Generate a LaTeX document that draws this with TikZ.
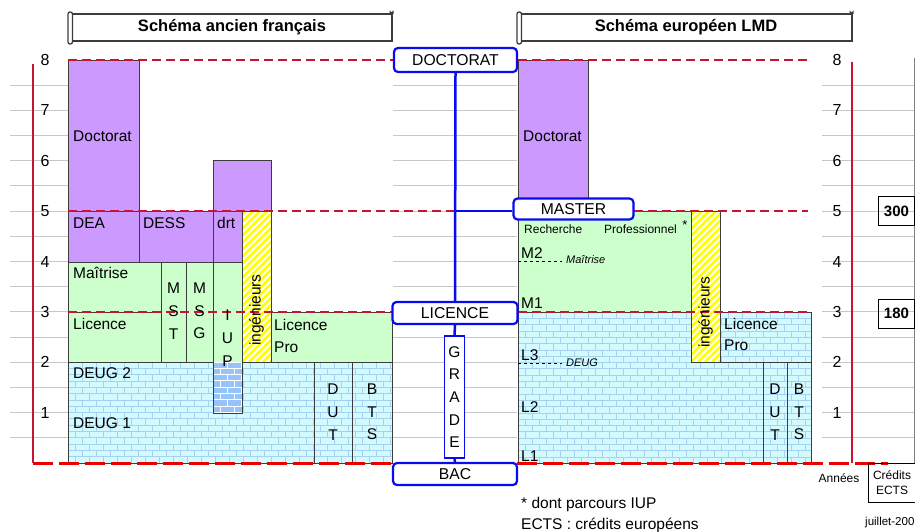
\documentclass[tikz,border=0pt]{standalone}
\usepackage{fontspec}
\setmainfont{Liberation Sans}
\definecolor{purp}{RGB}{204,153,255}
\definecolor{grn}{RGB}{204,255,204}
\definecolor{cyb}{RGB}{210,250,255}
\definecolor{mort}{RGB}{165,210,238}
\definecolor{iupb}{RGB}{150,195,250}
\definecolor{dred}{RGB}{200,20,50}
\definecolor{bred}{RGB}{235,0,0}
\definecolor{blu}{RGB}{10,10,240}
\definecolor{gridc}{RGB}{200,200,200}
\definecolor{hy}{RGB}{255,255,0}
\definecolor{bkc}{RGB}{60,60,60}
\newcommand{\fsz}[1]{\fontsize{#1}{#1}\selectfont}
\newcommand{\brickrows}[5]{%
  \pgfmathtruncatemacro{\brNr}{(#4-#2)/6.3+1}%
  \pgfmathtruncatemacro{\brNc}{(#3-#1)/14+1}%
  \foreach \bi in {0,...,\brNr}{%
    \pgfmathsetmacro{\brY}{#2+6.3*\bi}%
    \pgfmathsetmacro{\brOff}{mod(\bi,2)*7}%
    \draw[#5] (#1,\brY) -- (#3,\brY);
    \foreach \bj in {-1,...,\brNc}{%
      \draw[#5] ({#1+\brOff+14*\bj},\brY) -- ++(0,6.3);
    }%
  }}
\newcommand{\hatchbox}[4]{%
  \begin{scope}
  \clip (#1,#2) rectangle (#3,#4);
  \fill[white] (#1,#2) rectangle (#3,#4);
  \foreach \hk in {-175,-168,...,45}{%
    \draw[hy, line width=2.6pt] ({#1+\hk},#4) -- ++(200,-200);
  }
  \end{scope}}
\tikzset{
  bk/.style={draw=bkc, line width=0.9pt},
  lab/.style={anchor=west, inner sep=0pt, font=\fsz{15.5}},
  vlab/.style={inner sep=0pt, align=center, font=\fontsize{15.5}{22.7}\selectfont},
  sml/.style={anchor=west, inner sep=0pt, font=\fsz{12}},
  num/.style={inner sep=0pt, font=\fsz{16}},
  ttl/.style={inner sep=0pt, font=\bfseries\fsz{16.5}},
  yr/.style={dred, line width=1.3pt, dash pattern=on 9pt off 5pt},
  bottomline/.style={bred, line width=3pt, dash pattern=on 20pt off 6pt},
  bluebox/.style={draw=blu, line width=2.2pt, rounded corners=4pt, fill=white, inner sep=0pt, font=\fsz{15.7}},
  blueline/.style={blu, line width=2.5pt},
  scroll/.style={draw=bkc, line width=1.3pt, fill=white},
  credit/.style={draw=black, line width=1pt, inner sep=0pt, font=\bfseries\fsz{15}, minimum width=36pt, minimum height=29pt},
}
\begin{document}
\begin{tikzpicture}[x=1pt,y=-1pt]
\useasboundingbox (0,0) rectangle (915,532);
\fill[white] (0,0) rectangle (915,532);
% grid
\foreach \k in {1,...,15}{%
  \pgfmathsetmacro{\gy}{60+25.1875*\k}
  \draw[gridc, line width=0.9pt] (10,\gy) -- (68,\gy);
  \draw[gridc, line width=0.9pt] (393,\gy) -- (517,\gy);
  \draw[gridc, line width=0.9pt] (822,\gy) -- (915,\gy);
}
% axis numbers
\foreach \n in {1,...,8}{%
  \pgfmathsetmacro{\ny}{463-50.375*\n}
  \node[num] (ln\n) at (45,\ny) {\n};
  \node[num] (rn\n) at (837,\ny) {\n};
}
\draw[dred, line width=2.8pt] (33,64) -- (33,463);
\draw[dred, line width=2.5pt] (852,62) -- (852,463);
\draw[gray, line width=1pt] (914,58) -- (914,463);
% titles
\draw[scroll] (72,14) rectangle (392,41);
\draw[scroll, rounded corners=2pt] (68,12) rectangle (72.5,44);
\draw[bkc, line width=1pt] (390,14) -- (390,11.5) arc (180:0:1.6) -- (393.2,14);
\node[ttl] (t1) at (232,27) {Schéma ancien français};
\draw[scroll] (521,14) rectangle (852,41);
\draw[scroll, rounded corners=2pt] (517,12) rectangle (521.5,44);
\draw[bkc, line width=1pt] (850,14) -- (850,11.5) arc (180:0:1.6) -- (853.2,14);
\node[ttl] (t2) at (686,27) {Schéma européen LMD};
% ---------- left blocks
\draw[bk, fill=purp] (68,60) rectangle (139,211);
\draw[bk, fill=purp] (213,160) rectangle (271,211);
\draw[bk, fill=purp] (68,211) rectangle (139,262);
\draw[bk, fill=purp] (139,211) rectangle (213,262);
\draw[bk, fill=purp] (213,211) rectangle (242,262);
\hatchbox{242}{211}{271}{362}
\draw[bk] (242,211) rectangle (271,362);
\draw[bk, fill=grn] (68,262) rectangle (161,312);
\draw[bk, fill=grn] (68,312) rectangle (161,362);
\draw[bk, fill=grn] (161,262) rectangle (186,362);
\draw[bk, fill=grn] (186,262) rectangle (213,362);
\draw[bk, fill=grn] (271,312) rectangle (392,362);
\begin{scope}
  \clip (68,362) rectangle (392,463);
  \fill[cyb] (68,362) rectangle (392,463);
  \brickrows{68}{362}{392}{463}{mort, line width=0.6pt}
\end{scope}
\draw[bk] (68,362) rectangle (392,463);
\draw[bk] (314,362) rectangle (352,463);
\draw[bk] (352,362) rectangle (392,463);
\fill[grn] (213,262) rectangle (242,362);
\begin{scope}
  \clip (213,362) rectangle (242,413);
  \fill[iupb] (213,362) rectangle (242,413);
  \brickrows{213}{362}{242}{413}{white, line width=1pt}
\end{scope}
\draw[bk] (213,262) rectangle (242,413);
% ---------- right blocks
\draw[bk, fill=purp] (518,60) rectangle (588,211);
\draw[bk, fill=grn] (518,211) rectangle (691,312);
\hatchbox{691}{211}{720}{362}
\draw[bk] (691,211) rectangle (720,362);
\begin{scope}
  \clip (518,312) -- (691,312) -- (691,362) -- (720,362) -- (720,312) -- (811,312) -- (811,463) -- (518,463) -- cycle;
  \fill[cyb] (518,312) rectangle (811,463);
  \brickrows{518}{312}{811}{463}{mort, line width=0.6pt}
\end{scope}
\draw[bk] (518,312) -- (691,312) -- (691,362) -- (720,362) -- (720,312) -- (811,312) -- (811,463) -- (518,463) -- cycle;
\draw[bk] (720,312) rectangle (811,362);
\draw[bk] (763,362) rectangle (787,463);
\draw[bk] (787,362) rectangle (811,463);
\draw[black, line width=0.8pt, dashed] (518,261) -- (562,261);
\draw[black, line width=0.8pt, dashed] (518,363) -- (562,363);
% ---------- red year lines
\draw[yr] (68,60) -- (394,60);
\draw[yr] (518,60) -- (808,60);
\draw[yr] (68,211) -- (454,211);
\draw[yr] (634,211) -- (808,211);
\draw[yr] (68,312) -- (393,312);
\draw[yr] (518,312) -- (811,312);
\draw[bottomline] (33,463) -- (393,463);
\draw[bottomline] (517,463) -- (888,463);
% ---------- left texts
\node[lab] (a1) at (73,136) {Doctorat};
\node[lab] (a2) at (73,223) {DEA};
\node[lab] (a3) at (143,223) {DESS};
\node[lab] (a4) at (217,223) {drt};
\node[lab] (a5) at (73,273) {Maîtrise};
\node[lab] (a6) at (73,324) {Licence};
\node[vlab] (a7) at (173.5,311) {M\\S\\T};
\node[vlab] (a8) at (199.5,311) {M\\S\\G};
\node[vlab] (a9) at (227.5,338) {I\\U\\P};
\node[inner sep=0pt, rotate=90, font=\fsz{15.5}] (a10) at (256.5,310) {ingénieurs};
\node[lab] (a11) at (274,325) {Licence};
\node[lab] (a12) at (274,347) {Pro};
\node[lab] (a13) at (73,373) {DEUG 2};
\node[lab] (a14) at (73,423) {DEUG 1};
\node[vlab] (a15) at (333,412) {D\\U\\T};
\node[vlab] (a16) at (372,412) {B\\T\\S};
% ---------- right texts
\node[lab] (b1) at (523,136) {Doctorat};
\node[sml] (b2) at (524,229) {Recherche};
\node[sml] (b3) at (604,229) {Professionnel};
\node[inner sep=0pt, font=\fsz{13}] (b4) at (685,225) {*};
\node[lab] (b5) at (521,253) {M2};
\node[anchor=west, inner sep=0pt, font=\itshape\fsz{11}] (b6) at (566,260) {Maîtrise};
\node[lab] (b7) at (521,303) {M1};
\node[inner sep=0pt, rotate=90, font=\fsz{15.5}] (b8) at (705.5,312) {ingénieurs};
\node[lab] (b9) at (724,324) {Licence};
\node[lab] (b10) at (724,345) {Pro};
\node[lab] (b11) at (521,355) {L3};
\node[anchor=west, inner sep=0pt, font=\itshape\fsz{11}] (b12) at (566,363) {DEUG};
\node[lab] (b13) at (521,407) {L2};
\node[lab] (b14) at (521,456) {L1};
\node[vlab] (b15) at (775,412) {D\\U\\T};
\node[vlab] (b16) at (799,412) {B\\T\\S};
% ---------- credits
\node[credit] (c300) at (896.5,211) {300};
\node[credit] (c180) at (896.5,313.5) {180};
\node[inner sep=0pt, font=\fsz{12}] (ann) at (839,478) {Années};
\node[draw=black, line width=1pt, inner sep=0pt, align=center, minimum width=47pt, minimum height=39pt, font=\fontsize{12}{15.5}\selectfont] (cre) at (892,482.5) {Crédits\\ECTS};
\node[lab] (f1) at (521,504) {* dont parcours IUP};
\node[lab] (f2) at (521,525) {ECTS : crédits européens};
\node[anchor=west, inner sep=0pt, font=\fsz{11.5}] (jul) at (865,523) {juillet-200};
% ---------- blue diplomas
\node[bluebox, minimum width=123pt, minimum height=24pt] (doc) at (455.5,60) {DOCTORAT};
\node[bluebox, minimum width=120pt, minimum height=21pt] (mas) at (573.5,209) {MASTER};
\node[bluebox, minimum width=125pt, minimum height=22pt] (lic) at (455,313) {LICENCE};
\node[bluebox, minimum width=124pt, minimum height=22pt] (bac) at (455,474) {BAC};
\node[draw=blu, line width=1.2pt, fill=white, inner sep=0pt, minimum width=20pt, minimum height=122pt, align=center, font=\fontsize{15.5}{22.7}\selectfont] (grd) at (454.5,397) {G\\R\\A\\D\\E};
\draw[blueline] (doc.south) -- (lic.north);
\draw[blueline] (lic.south) -- (grd.north);
\draw[blueline] (grd.south) -- (bac.north);
\draw[blueline] (doc.south |- 0,211) -- (mas.west |- 0,211);
\end{tikzpicture}
\end{document}
